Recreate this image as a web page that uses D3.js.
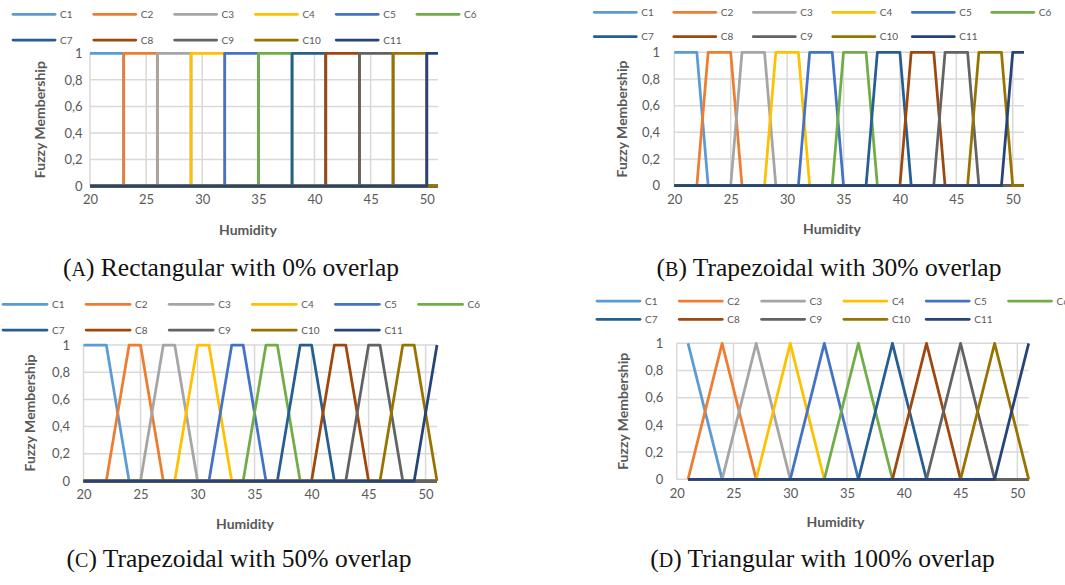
<!DOCTYPE html>
<html>
<head>
<meta charset="utf-8">
<script src="https://cdn.jsdelivr.net/npm/d3@7"></script>
<style>
body { margin: 0; background: #fff; }
svg { display: block; }
</style>
</head>
<body>
<div id="main"></div>
<script>
// series names and Excel-like colours
const SERIES = ["C1", "C2", "C3", "C4", "C5", "C6", "C7", "C8", "C9", "C10", "C11"];
const COLORS = ["#5B9BD5", "#ED7D31", "#A5A5A5", "#FFC000", "#4472C4", "#70AD47",
                "#255E91", "#9E480E", "#636363", "#997300", "#264478"];
const X_TICKS = [20, 25, 30, 35, 40, 45, 50];
const Y_TICKS = [0, 0.2, 0.4, 0.6, 0.8, 1];
const X_DOMAIN = [20, 51];

// membership functions: [humidity, membership] break points per class
const RECT_0 = [
    [[20, 1], [23, 1], [23, 0], [51, 0]],
    [[20, 0], [23, 0], [23, 1], [26, 1], [26, 0], [51, 0]],
    [[20, 0], [26, 0], [26, 1], [29, 1], [29, 0], [51, 0]],
    [[20, 0], [29, 0], [29, 1], [32, 1], [32, 0], [51, 0]],
    [[20, 0], [32, 0], [32, 1], [35, 1], [35, 0], [51, 0]],
    [[20, 0], [35, 0], [35, 1], [38, 1], [38, 0], [51, 0]],
    [[20, 0], [38, 0], [38, 1], [41, 1], [41, 0], [51, 0]],
    [[20, 0], [41, 0], [41, 1], [44, 1], [44, 0], [51, 0]],
    [[20, 0], [44, 0], [44, 1], [47, 1], [47, 0], [51, 0]],
    [[20, 0], [47, 0], [47, 1], [50, 1], [50, 0], [51, 0]],
    [[20, 0], [50, 0], [50, 1], [51, 1]]
];
const TRAP_30 = [
    [[20, 1], [22, 1], [23, 0], [51, 0]],
    [[20, 0], [22, 0], [23, 1], [25, 1], [26, 0], [51, 0]],
    [[20, 0], [25, 0], [26, 1], [28, 1], [29, 0], [51, 0]],
    [[20, 0], [28, 0], [29, 1], [31, 1], [32, 0], [51, 0]],
    [[20, 0], [31, 0], [32, 1], [34, 1], [35, 0], [51, 0]],
    [[20, 0], [34, 0], [35, 1], [37, 1], [38, 0], [51, 0]],
    [[20, 0], [37, 0], [38, 1], [40, 1], [41, 0], [51, 0]],
    [[20, 0], [40, 0], [41, 1], [43, 1], [44, 0], [51, 0]],
    [[20, 0], [43, 0], [44, 1], [46, 1], [47, 0], [51, 0]],
    [[20, 0], [46, 0], [47, 1], [49, 1], [50, 0], [51, 0]],
    [[20, 0], [49, 0], [50, 1], [51, 1]]
];
const TRAP_50 = [
    [[20, 1], [22, 1], [24, 0], [51, 0]],
    [[20, 0], [22, 0], [24, 1], [25, 1], [27, 0], [51, 0]],
    [[20, 0], [25, 0], [27, 1], [28, 1], [30, 0], [51, 0]],
    [[20, 0], [28, 0], [30, 1], [31, 1], [33, 0], [51, 0]],
    [[20, 0], [31, 0], [33, 1], [34, 1], [36, 0], [51, 0]],
    [[20, 0], [34, 0], [36, 1], [37, 1], [39, 0], [51, 0]],
    [[20, 0], [37, 0], [39, 1], [40, 1], [42, 0], [51, 0]],
    [[20, 0], [40, 0], [42, 1], [43, 1], [45, 0], [51, 0]],
    [[20, 0], [43, 0], [45, 1], [46, 1], [48, 0], [51, 0]],
    [[20, 0], [46, 0], [48, 1], [49, 1], [51, 0]],
    [[20, 0], [49, 0], [51, 1]]
];
const TRI_100 = [
    [[21, 1], [24, 0], [51, 0]],
    [[21, 0], [24, 1], [27, 0], [51, 0]],
    [[21, 0], [24, 0], [27, 1], [30, 0], [51, 0]],
    [[21, 0], [27, 0], [30, 1], [33, 0], [51, 0]],
    [[21, 0], [30, 0], [33, 1], [36, 0], [51, 0]],
    [[21, 0], [33, 0], [36, 1], [39, 0], [51, 0]],
    [[21, 0], [36, 0], [39, 1], [42, 0], [51, 0]],
    [[21, 0], [39, 0], [42, 1], [45, 0], [51, 0]],
    [[21, 0], [42, 0], [45, 1], [48, 0], [51, 0]],
    [[21, 0], [45, 0], [48, 1], [51, 0]],
    [[21, 0], [48, 0], [51, 1]]
];
const CAPTION_TAGS = ["A", "B", "C", "D"];
const CAPTION_TEXTS = ["Rectangular with 0% overlap", "Trapezoidal with 30% overlap",
                       "Trapezoidal with 50% overlap", "Triangular with 100% overlap"];

const ctx = {
    w: 1065,
    h: 585,
    GRID: "#D9D9D9",
    TEXT: "#595959",
    SANS: "Lato, 'Liberation Sans', sans-serif",
    SERIF: "'Liberation Serif', 'DejaVu Serif', serif",
};

// layout of the four panels (pixel positions measured on the reference)
const PANELS = [
    { data: RECT_0, x0: 90, x1: 438, yTop: 53.3, yBot: 186, tickY: 204, titleX: 248, titleY: 230,
      yTitleX: 40, tickRight: 82.5, legX: 12, legY: [14.3, 40], legStep: 80.8, legLen: 44,
      capX: 231, capY: 276 },
    { data: TRAP_30, x0: 674.3, x1: 1024, yTop: 52.3, yBot: 185.7, tickY: 203.3, titleX: 832, titleY: 229,
      yTitleX: 621.7, tickRight: 660, legX: 593.3, legY: [12.3, 36.7], legStep: 79.5, legLen: 44,
      capX: 829, capY: 276 },
    { data: TRAP_50, x0: 83.5, x1: 437, yTop: 345, yBot: 481, tickY: 498.3, titleX: 245, titleY: 524,
      yTitleX: 30, tickRight: 70, legX: 2, legY: [304.3, 330], legStep: 83.1, legLen: 46,
      capX: 239, capY: 567 },
    { data: TRI_100, x0: 676.7, x1: 1028.7, yTop: 343.3, yBot: 479.3, tickY: 497.3, titleX: 835.5, titleY: 521.7,
      yTitleX: 623.3, tickRight: 663.3, legX: 596, legY: [301, 319.3], legStep: 82.3, legLen: 45,
      capX: 822.5, capY: 567 }
];

function fmtComma(d) {
    return String(d).replace(".", ",");
}

function drawPanel(svgEl, p, i) {
    let x = d3.scaleLinear().domain(X_DOMAIN).range([p.x0, p.x1]);
    let y = d3.scaleLinear().domain([0, 1]).range([p.yBot, p.yTop]);
    let g = svgEl.append("g").attr("class", "panel");

    // gridlines
    g.append("g").selectAll("line")
        .data(Y_TICKS)
        .enter()
        .append("line")
        .attr("x1", x(X_DOMAIN[0]))
        .attr("x2", x(X_DOMAIN[1]))
        .attr("y1", (d) => y(d))
        .attr("y2", (d) => y(d))
        .attr("stroke", ctx.GRID)
        .attr("stroke-width", 1.5);
    g.append("g").selectAll("line")
        .data(X_TICKS)
        .enter()
        .append("line")
        .attr("x1", (d) => x(d))
        .attr("x2", (d) => x(d))
        .attr("y1", y(0))
        .attr("y2", y(1))
        .attr("stroke", ctx.GRID)
        .attr("stroke-width", 1.5);

    // axes without lines, labels only
    let xAxis = g.append("g")
        .attr("transform", `translate(0,${p.tickY - 9})`)
        .call(d3.axisBottom(x).tickValues(X_TICKS).tickSize(0).tickPadding(0));
    let yAxis = g.append("g")
        .attr("transform", `translate(${p.tickRight},0)`)
        .call(d3.axisLeft(y).tickValues(Y_TICKS).tickFormat(fmtComma).tickSize(0).tickPadding(0));
    [xAxis, yAxis].forEach((a) => {
        a.select(".domain").remove();
        a.selectAll("text")
            .attr("fill", ctx.TEXT)
            .style("font-family", ctx.SANS)
            .style("font-size", "13px");
    });
    xAxis.selectAll("text").attr("dy", "0.71em");

    // membership lines
    let line = d3.line().x((d) => x(d[0])).y((d) => y(d[1]));
    g.append("g").selectAll("path")
        .data(p.data)
        .enter()
        .append("path")
        .attr("d", line)
        .attr("fill", "none")
        .attr("stroke", (d, j) => COLORS[j])
        .attr("stroke-width", 2.75)
        .attr("stroke-linejoin", "round");

    // axis titles
    g.append("text")
        .attr("x", p.titleX)
        .attr("y", p.titleY)
        .attr("dy", "0.35em")
        .attr("text-anchor", "middle")
        .attr("fill", ctx.TEXT)
        .style("font-family", ctx.SANS)
        .style("font-weight", "bold")
        .style("font-size", "14px")
        .text("Humidity");
    g.append("text")
        .attr("transform", `translate(${p.yTitleX},${(p.yTop + p.yBot) / 2}) rotate(-90)`)
        .attr("dy", "0.35em")
        .attr("text-anchor", "middle")
        .attr("fill", ctx.TEXT)
        .style("font-family", ctx.SANS)
        .style("font-weight", "bold")
        .style("font-size", "14px")
        .text("Fuzzy Membership");

    // legend, two rows of six / five
    let leg = g.append("g").selectAll("g")
        .data(SERIES)
        .enter()
        .append("g")
        .attr("transform", (d, j) => `translate(${p.legX + (j % 6) * p.legStep},${p.legY[Math.floor(j / 6)]})`);
    leg.append("line")
        .attr("x1", 1)
        .attr("x2", p.legLen - 1)
        .attr("stroke", (d, j) => COLORS[j])
        .attr("stroke-width", 2.75)
        .attr("stroke-linecap", "round");
    leg.append("text")
        .attr("x", p.legLen + 4)
        .attr("dy", "0.35em")
        .attr("fill", ctx.TEXT)
        .style("font-family", ctx.SANS)
        .style("font-size", "10px")
        .text((d) => d);

    // caption
    let cap = g.append("text")
        .attr("x", p.capX)
        .attr("y", p.capY)
        .attr("text-anchor", "middle")
        .attr("fill", "#111")
        .style("font-family", ctx.SERIF)
        .style("font-size", "25.5px");
    cap.append("tspan").text("(");
    cap.append("tspan").style("font-size", "20px").text(CAPTION_TAGS[i]);
    cap.append("tspan").text(") " + CAPTION_TEXTS[i]);
}

function createViz() {
    let svgEl = d3.select("#main").append("svg")
        .attr("width", ctx.w)
        .attr("height", ctx.h);
    PANELS.forEach((p, i) => drawPanel(svgEl, p, i));
}

createViz();
</script>
</body>
</html>
